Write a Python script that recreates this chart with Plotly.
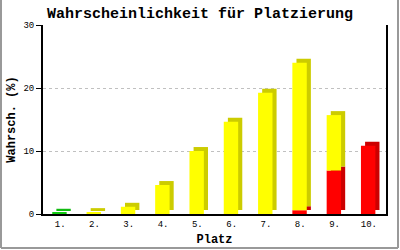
import plotly.graph_objects as go

categories = ["1.", "2.", "3.", "4.", "5.", "6.", "7.", "8.", "9.", "10."]
red_vals = [0, 0, 0, 0, 0, 0, 0, 0.6, 6.9, 10.85]
yellow_vals = [0, 0.3, 1.15, 4.6, 10.0, 14.65, 19.25, 23.4, 8.8, 0]
green_vals = [0.2, 0, 0, 0, 0, 0, 0, 0, 0, 0]
y_ticks = [0, 10, 20, 30]

series = [
    ("red", red_vals, "#FF0000", "#CC0000"),
    ("yellow", yellow_vals, "#FFFF00", "#CCCC00"),
    ("green", green_vals, "#11CC11", "#11BB11"),
]

BAR_W = 0.42
BAR_OFF = -0.23
DX = 0.12   # 3D depth, category units
DY = 0.63   # 3D depth, value units

fig = go.Figure()
base = [0.0] * len(categories)
for name, vals, col, dark in series:
    fig.add_trace(go.Bar(
        x=categories, y=vals, base=[b + DY for b in base],
        width=BAR_W, offset=BAR_OFF + DX,
        marker=dict(color=dark, line=dict(width=0)),
        showlegend=False, hoverinfo="skip",
    ))
    fig.add_trace(go.Bar(
        x=categories, y=vals, base=list(base),
        width=BAR_W, offset=BAR_OFF,
        marker=dict(color=col, line=dict(width=0)),
        name=name, showlegend=False,
    ))
    base = [b + v for b, v in zip(base, vals)]

mono = "Liberation Mono, DejaVu Sans Mono, monospace"

fig.update_layout(
    width=400, height=250,
    margin=dict(l=43, r=14, t=25, b=36),
    paper_bgcolor="white", plot_bgcolor="white",
    barmode="overlay",
    showlegend=False,
    font=dict(family=mono, size=9, color="black"),
    title=dict(
        text="Wahrscheinlichkeit für Platzierung",
        x=0.5, xanchor="center", y=1 - 13 / 250, yanchor="middle",
        font=dict(family=mono, size=15, color="black", weight="bold"),
        automargin=False,
    ),
    xaxis=dict(
        type="category", range=[-0.5, 9.5], automargin=False,
        showline=True, linecolor="black", linewidth=2,
        showgrid=False, ticks="", zeroline=False,
        tickfont=dict(family=mono, size=9),
        title=dict(text="Platz", standoff=6,
                   font=dict(family=mono, size=12, weight="bold")),
    ),
    yaxis=dict(
        range=[0, 30], tickvals=y_ticks, automargin=False,
        showline=True, linecolor="black", linewidth=2, mirror=True,
        ticks="outside", ticklen=5, tickcolor="black", tickwidth=1,
        showgrid=True, gridcolor="#C0C0C0", griddash="3px,3px", gridwidth=1,
        zeroline=False,
        tickfont=dict(family=mono, size=9),
        title=dict(text="Wahrsch. (%)", standoff=5,
                   font=dict(family=mono, size=12, weight="bold")),
    ),
)

# outer gray frame (left, right, bottom)
fx0, fx1 = (1 - 43) / 343, (398 - 43) / 343
fy0, fy1 = (214 - 248) / 189, (214 - 0) / 189
for x0, y0, x1, y1 in [(fx0, fy0, fx0, fy1), (fx1, fy0, fx1, fy1), (fx0, fy0, fx1, fy0)]:
    fig.add_shape(type="line", xref="paper", yref="paper",
                  x0=x0, y0=y0, x1=x1, y1=y1,
                  line=dict(color="#999999", width=2), layer="above")

fig.write_html("out.html")
